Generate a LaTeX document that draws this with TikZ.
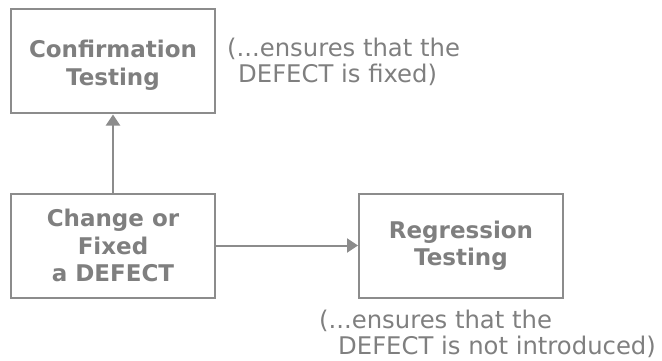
\documentclass[tikz,border=0pt]{standalone}
\usepackage{fontspec}
\setmainfont{DejaVu Sans}
\usetikzlibrary{positioning,arrows.meta}
\definecolor{linegray}{HTML}{8C8C8C}
\definecolor{textgray}{HTML}{7F7F7F}
\tikzstyle{boxnode}=[rectangle,draw=linegray,line width=2pt,minimum width=204pt,%
  minimum height=104pt,inner sep=0,align=center,text=textgray,%
  font=\fontsize{23}{27.5}\selectfont\bfseries]

\begin{document}
\begin{tikzpicture}[
    note/.style={align=left,text=textgray,font=\fontsize{24.3}{26}\selectfont,inner sep=0},
    link/.style={draw=linegray,line width=2pt,-{Triangle[length=11pt,width=14pt]}}
    ]
    \useasboundingbox (0,0) rectangle (662pt,-361pt);

    % the three boxes
    \node[boxnode] (fix) at (113pt,-245.5pt) {Change or\\Fixed\\a DEFECT};
    \node[boxnode,above=78pt of fix] (conf) {\rule{0pt}{25pt}Confirmation\\Testing};
    \node[boxnode,right=142pt of fix] (regr) {Regression\\Testing};

    % notes
    \node[note,anchor=north west] (confnote) at ([xshift=11pt,yshift=-29pt]conf.north east)
      {(...ensures that the\\\hspace*{11pt}DEFECT is fixed)};
    \node[note,anchor=north west] (regrnote) at ([xshift=-39pt,yshift=-11.5pt]regr.south west)
      {(...ensures that the\\\hspace*{19pt}DEFECT is not introduced)};

    % arrows
    \draw[link] (fix.north) -- (conf.south);
    \draw[link] (fix.east) -- (regr.west);

  \end{tikzpicture}
\end{document}
